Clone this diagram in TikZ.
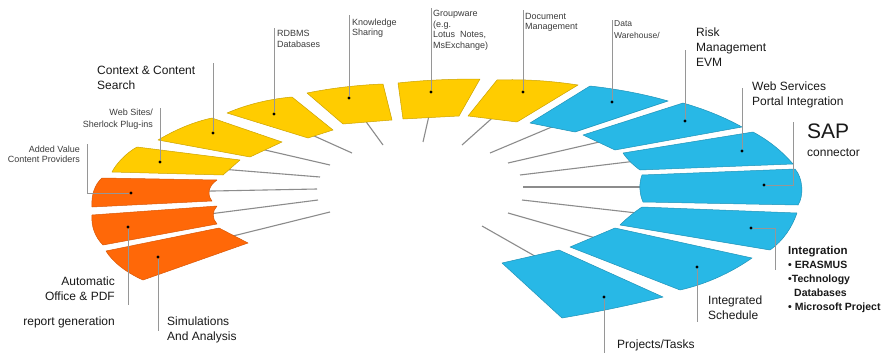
\documentclass[tikz,border=0pt]{standalone}
\usepackage{fontspec}
\setmainfont{Liberation Sans}
\definecolor{segyellow}{RGB}{255,204,0}
\definecolor{segorange}{RGB}{255,104,8}
\definecolor{segblue}{RGB}{40,184,230}
\definecolor{spokegray}{RGB}{140,140,140}
\definecolor{calloutgray}{RGB}{150,150,150}
\definecolor{smalltext}{RGB}{60,60,60}
\definecolor{bigtext}{RGB}{25,25,25}
\begin{document}
\begin{tikzpicture}[x=1pt,y=-1pt,
  seg/.style={line width=0.5pt,line join=round},
  yelseg/.style={seg,fill=segyellow,draw=segyellow!80!black},
  orseg/.style={seg,fill=segorange,draw=segorange!85!black},
  blueseg/.style={seg,fill=segblue,draw=segblue!80!black},
  spoke/.style={draw=spokegray,line width=1.1pt,shorten >=-6pt},
  callout/.style={draw=calloutgray,line width=0.8pt},
  dot/.style={circle,fill=black,inner sep=0pt,minimum size=3.4pt},
  small/.style={font=\fontsize{9}{10.5}\selectfont,text=smalltext,inner sep=0pt},
  medium/.style={font=\fontsize{12}{15}\selectfont,text=bigtext,inner sep=0pt},
]
\fill[white] (0,0) rectangle (885,353);
\useasboundingbox (0,0) rectangle (885,353);

% ---- spokes: hub ends on the inner ellipse, rim ends at the segments
\foreach \i/\hx/\hy/\rx/\ry in {
  1/330/212/237/235, 2/318/200/217/213, 3/317/189/213/191,
  4/320/177/233/170, 5/330/165/265/150, 6/352/153/312/135,
  7/383/145/367/123, 8/423/142/428/120, 9/462/145/490/120,
  10/490/153/547/129, 11/508/163/595/143, 12/520/175/628/162,
  13/523/187/643/187, 14/522/200/628/212, 15/508/213/592/237,
  16/482/226/533/255}{
  \coordinate (hub\i) at (\hx,\hy);
  \coordinate (rim\i) at (\rx,\ry);
  \draw[spoke] (hub\i) -- (rim\i);
}

% ---- orange segments
\filldraw[orseg] (217,180) -- (102,178) .. controls (95,184) and (91,195) .. (92,207)
  -- (212,201) .. controls (207,195) and (208,186) .. (217,180) -- cycle;
\filldraw[orseg] (217,206) -- (92,215) .. controls (91,226) and (95,237) .. (103,245)
  -- (217,224) .. controls (212,219) and (212,211) .. (217,206) -- cycle;
\filldraw[orseg] (219,228) -- (106,251) .. controls (112,261) and (125,272) .. (143,280)
  -- (248,243) -- cycle;

% ---- yellow segments
\filldraw[yelseg] (112,172) .. controls (116,164) and (126,153) .. (137,147)
  -- (240,160) -- (223,175) -- cycle;
\filldraw[yelseg] (158,140) .. controls (175,130) and (193,122) .. (212,118)
  -- (282,142) -- (250,157) -- cycle;
\filldraw[yelseg] (227,113) .. controls (248,104) and (270,99) .. (292,97)
  -- (333,130) -- (308,138) -- cycle;
\filldraw[yelseg] (307,93) .. controls (332,88) and (358,85) .. (383,84)
  -- (392,120) -- (343,124) -- cycle;
\filldraw[yelseg] (398,83) .. controls (425,80) and (452,79) .. (480,79)
  -- (459,116) -- (403,119) -- cycle;
\filldraw[yelseg] (497,80) .. controls (525,79) and (552,81) .. (578,85)
  -- (517,122) -- (468,116) -- cycle;

% ---- blue segments
\filldraw[blueseg] (530,123) -- (590,86) .. controls (617,89) and (644,94) .. (668,101)
  -- (575,132) -- cycle;
\filldraw[blueseg] (583,135) -- (683,103) .. controls (704,109) and (724,117) .. (742,127)
  -- (615,150) -- cycle;
\filldraw[blueseg] (623,153) -- (753,132) .. controls (768,140) and (782,151) .. (793,164)
  -- (640,170) .. controls (633,165) and (627,159) .. (623,153) -- cycle;
\filldraw[blueseg] (642,175) -- (795,169) .. controls (803,178) and (804,196) .. (798,205)
  -- (643,202) .. controls (639,193) and (639,183) .. (642,175) -- cycle;
\filldraw[blueseg] (642,207) -- (797,213) .. controls (792,227) and (784,240) .. (770,250)
  -- (620,225) .. controls (628,217) and (636,211) .. (642,207) -- cycle;
\filldraw[blueseg] (570,247) -- (615,228) -- (752,258) .. controls (732,272) and (707,284) .. (680,290)
  -- cycle;
\filldraw[blueseg] (502,263) -- (559,250) -- (663,297) .. controls (631,305) and (597,312) .. (562,318)
  -- cycle;

% ---- label dots
\node[dot] (dAdded)   at (131,193) {};
\node[dot] (dAuto)    at (128,227) {};
\node[dot] (dSim)     at (158,257) {};
\node[dot] (dWeb)     at (160,162) {};
\node[dot] (dContext) at (213,133) {};
\node[dot] (dRdbms)   at (274,114) {};
\node[dot] (dKnow)    at (349,98) {};
\node[dot] (dGroup)   at (431,92) {};
\node[dot] (dDoc)     at (523,92) {};
\node[dot] (dData)    at (612,102) {};
\node[dot] (dRisk)    at (685,121) {};
\node[dot] (dWebSvc)  at (742,151) {};
\node[dot] (dSap)     at (764,185) {};
\node[dot] (dInteg)   at (751,228) {};
\node[dot] (dSched)   at (697,267) {};
\node[dot] (dProj)    at (604,297) {};

% ---- callout line ends
\coordinate (cAdded)   at (87,144);
\coordinate (cAuto)    at (128,305);
\coordinate (cSim)     at (158,331);
\coordinate (cWeb)     at (160,108);
\coordinate (cContext) at (213,63);
\coordinate (cRdbms)   at (274,28);
\coordinate (cKnow)    at (349,15);
\coordinate (cGroup)   at (431,8);
\coordinate (cDoc)     at (523,10);
\coordinate (cData)    at (612,20);
\coordinate (cRisk)    at (685,50);
\coordinate (cWebSvc)  at (742,88);
\coordinate (cSap)     at (793,122);
\coordinate (cInteg)   at (775,270);
\coordinate (cSched)   at (697,322);
\coordinate (cProj)    at (604,353);

\draw[callout] (cAdded) |- (dAdded);
\draw[callout] (dAuto) -- (cAuto);
\draw[callout] (dSim) -- (cSim);
\draw[callout] (dWeb) -- (cWeb);
\draw[callout] (dContext) -- (cContext);
\draw[callout] (dRdbms) -- (cRdbms);
\draw[callout] (dKnow) -- (cKnow);
\draw[callout] (dGroup) -- (cGroup);
\draw[callout] (dDoc) -- (cDoc);
\draw[callout] (dData) -- (cData);
\draw[callout] (dRisk) -- (cRisk);
\draw[callout] (dWebSvc) -- (cWebSvc);
\draw[callout] (cSap) |- (dSap);
\draw[callout] (dInteg) -| (cInteg);
\draw[callout] (dSched) -- (cSched);
\draw[callout] (dProj) -- (cProj);

% ---- labels
\node[small,anchor=north east,align=right,font=\fontsize{9}{10}\selectfont] (tAdded) at (80,145.4)
  {Added Value\\Content Providers};
\node[small,anchor=north east,align=right,font=\fontsize{9}{12}\selectfont] (tWeb) at (153,108.4)
  {Web Sites/\\Sherlock Plug-ins};
\node[medium,anchor=north west,align=left,font=\fontsize{12}{14.5}\selectfont] (tContext) at (97,66.2)
  {Context \& Content\\Search};
\node[small,anchor=north west,align=left,font=\fontsize{9}{11}\selectfont] (tRdbms) at (277,30.4)
  {RDBMS\\Databases};
\node[small,anchor=north west,align=left,font=\fontsize{9}{10.5}\selectfont] (tKnow) at (352,18.4)
  {Knowledge\\Sharing};
\node[small,anchor=north west,align=left,font=\fontsize{9}{10.4}\selectfont] (tGroup) at (433,10.4)
  {Groupware\\(e.g.\\Lotus\ \ Notes,\\MsExchange)};
\node[small,anchor=north west,align=left,font=\fontsize{9}{10}\selectfont] (tDoc) at (525,13.4)
  {Document\\Management};
\node[small,anchor=north west,align=left,font=\fontsize{8.5}{11.5}\selectfont] (tData) at (614,20.8)
  {Data\\Warehouse/};
\node[medium,anchor=north west,align=left] (tRisk) at (696,27.2)
  {Risk\\Management\\EVM};
\node[medium,anchor=north west,align=left] (tWebSvc) at (752,81.2)
  {Web Services\\Portal Integration};
\node[medium,anchor=base west,font=\fontsize{21}{24}\selectfont] (tSap) at (807,138) {SAP};
\node[medium,anchor=base west] (tConn) at (807,156) {connector};
\node[medium,anchor=north west,align=left,font=\fontsize{10.5}{14}\selectfont\bfseries] (tInteg) at (788,246)
  {{\fontsize{11.5}{14}\selectfont Integration}\\• ERASMUS\\•Technology\\\hspace*{6pt}Databases\\• Microsoft Project};
\node[medium,anchor=north west,align=left,font=\fontsize{12}{15.5}\selectfont] (tSched) at (708,295.2)
  {Integrated\\Schedule};
\node[medium,anchor=base west] (tProj) at (617,348) {Projects/Tasks};
\node[medium,anchor=north east,align=right] (tAuto) at (115,276.2)
  {Automatic\\Office \& PDF\\[10pt]report generation};
\node[medium,anchor=north west,align=left] (tSim) at (167,316.2)
  {Simulations\\And Analysis};
\end{tikzpicture}
\end{document}
